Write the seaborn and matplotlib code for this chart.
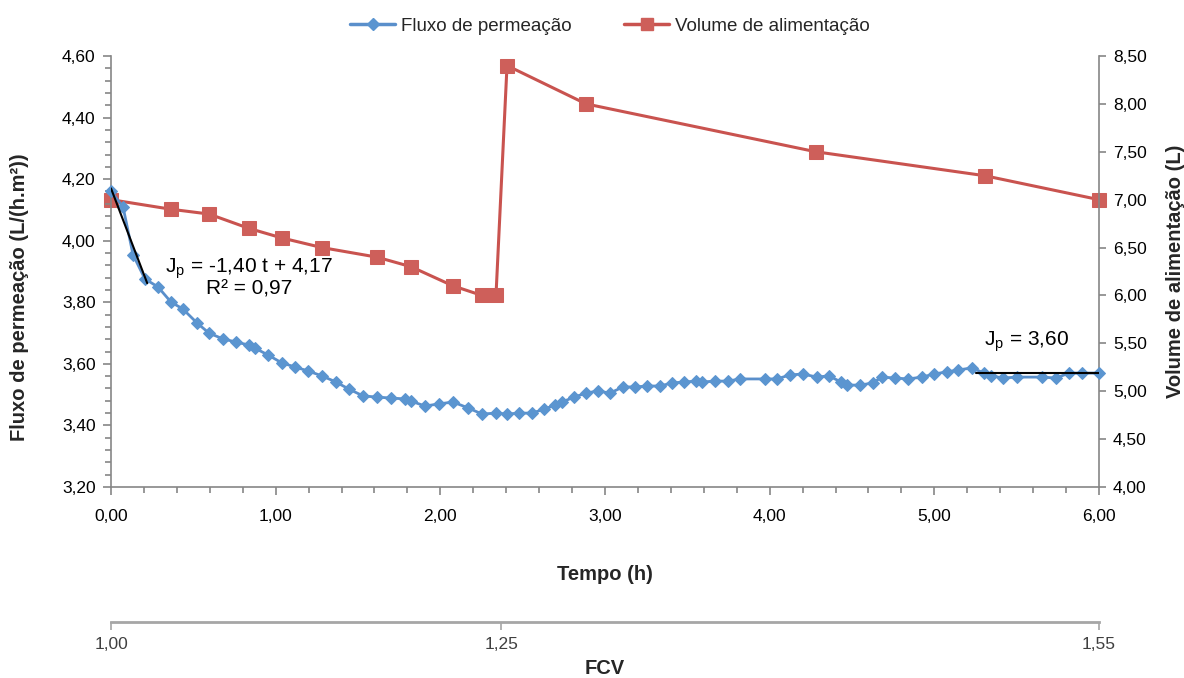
import numpy as np
import pandas as pd
import matplotlib
matplotlib.use("Agg")
import matplotlib.pyplot as plt
from matplotlib.ticker import MultipleLocator, FuncFormatter
from matplotlib.lines import Line2D
import seaborn as sns

# ---------------- data ----------------
flux_time = [0.00, 0.073, 0.134, 0.206, 0.285, 0.364, 0.437, 0.522, 0.595, 0.680,
             0.759, 0.838, 0.874, 0.953, 1.038, 1.117, 1.196, 1.281, 1.366, 1.445,
             1.530, 1.615, 1.701, 1.786, 1.822, 1.907, 1.992, 2.077, 2.168, 2.253,
             2.338, 2.405, 2.478, 2.557, 2.630, 2.696, 2.739, 2.812, 2.885, 2.957,
             3.030, 3.109, 3.182, 3.255, 3.334, 3.407, 3.480, 3.553, 3.589, 3.668,
             3.747, 3.820, 3.972, 4.044, 4.123, 4.202, 4.287, 4.360, 4.433, 4.470,
             4.549, 4.627, 4.682, 4.761, 4.840, 4.925, 4.998, 5.077, 5.144, 5.229,
             5.301, 5.344, 5.417, 5.502, 5.654, 5.739, 5.818, 5.897, 6.000]
flux_values = [4.160, 4.110, 3.954, 3.876, 3.850, 3.801, 3.778, 3.733, 3.700, 3.681,
               3.671, 3.661, 3.651, 3.629, 3.603, 3.590, 3.577, 3.561, 3.541, 3.518,
               3.496, 3.492, 3.489, 3.486, 3.479, 3.463, 3.470, 3.476, 3.457, 3.437,
               3.440, 3.437, 3.440, 3.440, 3.453, 3.466, 3.476, 3.492, 3.505, 3.512,
               3.505, 3.525, 3.525, 3.528, 3.528, 3.538, 3.541, 3.544, 3.541, 3.544,
               3.544, 3.551, 3.551, 3.551, 3.564, 3.567, 3.557, 3.561, 3.541, 3.531,
               3.531, 3.538, 3.557, 3.554, 3.551, 3.557, 3.567, 3.574, 3.580, 3.587,
               3.570, 3.561, 3.554, 3.557, 3.557, 3.554, 3.570, 3.570, 3.570]

vol_time = [0.00, 0.364, 0.595, 0.838, 1.038, 1.281, 1.615, 1.822, 2.077, 2.253,
            2.338, 2.405, 2.885, 4.281, 5.307, 6.000]
vol_values = [7.00, 6.90, 6.85, 6.70, 6.60, 6.50, 6.40, 6.30, 6.10, 6.00,
              6.00, 8.40, 8.00, 7.50, 7.25, 7.00]

# trend lines
fit1_t = [0.00, 0.22]
fit1_slope, fit1_intercept = -1.40, 4.17
fit2_t = [5.25, 6.00]
fit2_level = 3.57

# FCV secondary axis
fcv_time = [0.00, 2.37, 6.00]
fcv_labels = ["1,00", "1,25", "1,55"]

series_names = ["Fluxo de permeação", "Volume de alimentação"]

# ---------------- style ----------------
sns.set_theme(style="white")
plt.rcParams["font.family"] = ["Liberation Sans", "DejaVu Sans"]
plt.rcParams["mathtext.fontset"] = "custom"
plt.rcParams["mathtext.rm"] = "Liberation Sans"
plt.rcParams["mathtext.it"] = "Liberation Sans"

BLUE = "#5A8FCB"
BLUE_M = "#5B95D0"
RED = "#C9534F"
RED_M = "#CE5F5A"
GRAY = "#868686"
FS = 12.5
FT = 14.5

comma = FuncFormatter(lambda v, p: f"{v:.2f}".replace(".", ","))

fig = plt.figure(figsize=(11.84, 6.78), dpi=100)
ax = fig.add_axes([111 / 1184, 1 - 487 / 678, 988 / 1184, 431 / 678])
ax2 = ax.twinx()

df_flux = pd.DataFrame({"t": flux_time, "J": flux_values})
df_vol = pd.DataFrame({"t": vol_time, "V": vol_values})

sns.lineplot(data=df_vol, x="t", y="V", ax=ax2, color=RED, lw=2.2,
             marker="s", markersize=9.5, markerfacecolor=RED_M,
             markeredgecolor=RED_M, estimator=None, sort=False, zorder=2,
             clip_on=False)
sns.lineplot(data=df_flux, x="t", y="J", ax=ax, color=BLUE, lw=2.0,
             marker="D", markersize=6.5, markerfacecolor=BLUE_M,
             markeredgecolor=BLUE_M, estimator=None, sort=False, zorder=3,
             clip_on=False)

# put the blue on top of red twin axis
ax.set_zorder(ax2.get_zorder() + 1)
ax.patch.set_visible(False)

# trend lines on primary axis
t1 = np.array(fit1_t)
ax.plot(t1, fit1_slope * t1 + fit1_intercept, color="black", lw=1.5, zorder=5)
ax.plot(fit2_t, [fit2_level, fit2_level], color="black", lw=1.5, zorder=5)

ax.text(0.84, 3.910, r"J$_\mathregular{p}$ = -1,40 t + 4,17", fontsize=15,
        ha="center", va="center", color="black")
ax.text(0.84, 3.843, "R² = 0,97", fontsize=15, ha="center", va="center",
        color="black")
ax.text(5.56, 3.672, r"J$_\mathregular{p}$ = 3,60", fontsize=15,
        ha="center", va="center", color="black")

# axes limits and ticks
ax.set_xlim(0, 6)
ax.set_ylim(3.20, 4.60)
ax2.set_ylim(4.00, 8.50)
ax.xaxis.set_major_locator(MultipleLocator(1.0))
ax.xaxis.set_minor_locator(MultipleLocator(0.2))
ax.yaxis.set_major_locator(MultipleLocator(0.2))
ax.yaxis.set_minor_locator(MultipleLocator(0.04))
ax2.yaxis.set_major_locator(MultipleLocator(0.5))
ax.xaxis.set_major_formatter(comma)
ax.yaxis.set_major_formatter(comma)
ax2.yaxis.set_major_formatter(comma)

for a in (ax, ax2):
    for s in a.spines.values():
        s.set_color(GRAY)
        s.set_linewidth(1.2)
    a.spines["top"].set_visible(False)
    a.grid(False)
ax.spines["right"].set_visible(False)
ax2.spines["left"].set_visible(False)
ax2.spines["bottom"].set_visible(False)

ax.tick_params(axis="both", which="major", direction="out", length=6, width=1.2,
               color=GRAY, labelsize=FS, labelcolor="black", pad=5)
ax.tick_params(axis="both", which="minor", direction="out", length=4, width=1.2,
               color=GRAY)
ax.tick_params(axis="x", which="major", pad=10)
ax.tick_params(axis="x", which="both", bottom=True)
ax.tick_params(axis="y", which="both", left=True)
ax2.tick_params(axis="y", which="major", direction="out", length=5, width=1.2,
                color=GRAY, labelsize=FS, labelcolor="black", right=True, pad=5)

ax.set_xlabel("Tempo (h)", fontsize=FT, fontweight="bold", labelpad=29)
ax.set_ylabel("Fluxo de permeação (L/(h.m²))", fontsize=FT, fontweight="bold")
ax.yaxis.set_label_coords(-0.083, 0.44)
ax2.set_ylabel("Volume de alimentação (L)", fontsize=FT,
               fontweight="bold", labelpad=14)

# secondary FCV axis below
sec = ax.secondary_xaxis(-(622 - 487) / 431)
sec.set_xticks(fcv_time)
sec.set_xticklabels(fcv_labels)
sec.spines["bottom"].set_color("#A6A6A6")
sec.spines["bottom"].set_linewidth(2.0)
sec.tick_params(axis="x", direction="out", length=6, width=1.2, color="#A6A6A6",
                labelsize=FS, labelcolor="#404040", pad=5)
sec.set_xlabel("FCV", fontsize=FT, fontweight="bold", labelpad=5)

# legend
handles = [
    Line2D([], [], color=BLUE, lw=2.5, marker="D", markersize=6.5,
           markerfacecolor=BLUE_M, markeredgecolor=BLUE_M),
    Line2D([], [], color=RED, lw=2.5, marker="s", markersize=8,
           markerfacecolor=RED_M, markeredgecolor=RED_M),
]
fig.legend(handles, series_names, loc="center",
           bbox_to_anchor=(610 / 1184, 1 - 26 / 678),
           ncol=2, frameon=False, fontsize=13.5, handlelength=2.4,
           columnspacing=2.8, handletextpad=0.3)
if ax.get_legend() is not None:
    ax.get_legend().remove()
if ax2.get_legend() is not None:
    ax2.get_legend().remove()

fig.savefig("out.png", dpi=100)
